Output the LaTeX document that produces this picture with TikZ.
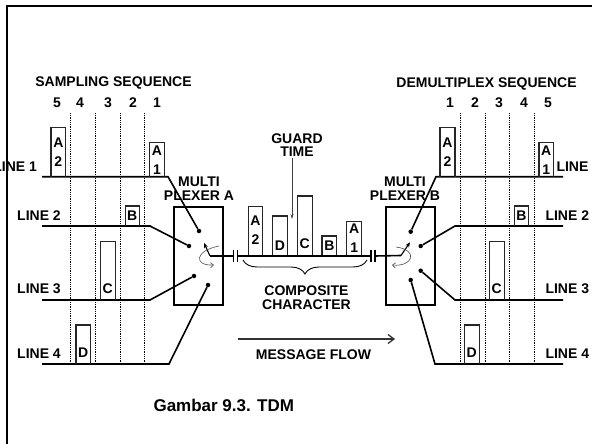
\documentclass[tikz,border=0pt]{standalone}
\usepackage{fontspec}
\setmainfont{Liberation Sans}
\usetikzlibrary{arrows.meta,decorations.pathreplacing}
\begin{document}
\begin{tikzpicture}[x=1pt, y=-1pt, font=\fontsize{14}{13.5}\selectfont\bfseries,
	pulse/.style={draw=black!85, line width=1.1pt},
	wire/.style={line width=1.6pt},
	slot/.style={densely dotted, line width=0.8pt},
	mux/.style={draw, line width=2.4pt, minimum width=49pt, minimum height=98pt, inner sep=0pt},
	pin/.style={circle, fill, inner sep=0pt, minimum size=4.5pt},
	arm/.style={line width=1.1pt, -{Stealth[length=5pt, width=4pt]}},
	rot/.style={line width=0.6pt, black!70, -{Straight Barb[length=3pt, width=5pt]}},
	pointer/.style={line width=0.7pt, black!75, -{Stealth[length=5pt, width=3pt]}}]
	
	\clip (0,0) rectangle (592,444);
	% Frame (cut at right and bottom)
	\draw[line width=2.5pt] (7,450) -- (7,6) -- (600,6);
	
	% Headings and slot numbers
	\node (samp) at (113.5,83) {SAMPLING SEQUENCE};
	\node (demux) at (486.5,84) {DEMULTIPLEX SEQUENCE};
	\foreach \x/\t in {57/5, 80/4, 108/3, 133/2, 157/1, 450/1, 475/2, 499/3, 524/4, 548/5} {
		\node at (\x,103) {\t};
	}
	% Time slots
	\foreach \x in {70.7, 95.7, 120, 144.3, 460, 485, 509.7, 534} {
		\draw[slot] (\x,113) -- (\x,364);
	}
	
	% Multiplexers
	\node[mux] (muxA) at (198.5,256) {};
	\node[mux] (muxB) at (410.5,256) {};
	\node[align=center] (labA) at (199,188.5) {MULTI\\PLEXER A};
	\node[align=center] (labB) at (405,188.5) {MULTI\\PLEXER B};
	
	% Input lines to multiplexer A
	\foreach \n/\y/\kx/\px/\py in {1/176.7/168/199/231, 2/226/150/189/246, 3/300/150/194/276, 4/364/169/208/285} {
		\node[pin] (pa\n) at (\px,\py) {};
		\coordinate (la\n) at (42,\y);
		\draw[wire] (la\n) -- (\kx,\y) -- (pa\n);
	}
	\node[anchor=east] at (40.5,167) {LINE 1};
	\foreach \n/\y in {2/216, 3/289, 4/354} {
		\node at (39,\y) {LINE \n};
	}
	
	% Output lines from multiplexer B
	\foreach \n/\y/\kx/\px/\py in {1/176.7/436/410.7/231.7, 2/226/455/420.7/246, 3/300/455/420.7/270.7, 4/364/435/410.7/280} {
		\node[pin] (pb\n) at (\px,\py) {};
		\coordinate (lb\n) at (563,\y);
		\draw[wire] (lb\n) -- (\kx,\y) -- (pb\n);
	}
	\node[anchor=west] at (553,167) {LINE 1};
	\foreach \n/\y in {2/216, 3/289, 4/354} {
		\node[anchor=west] at (542,\y) {LINE \n};
	}
	
	% Pulses: left x / right x / top / base / text centre / text
	\foreach \xa/\xb/\yt/\yb/\ty/\t in {
		51/65.7/127.7/176.7/152.5/{A\\2}, 149.7/164.3/142.3/176.7/160/{A\\1},
		125.3/139.3/206/226/216/B, 100.3/115.3/241.3/300/289/C, 76/90.3/325/364/353/D,
		248.3/262.7/206.7/256/230/{A\\2}, 272.7/287.3/216/256/246/D, 297.3/312.3/196/256/243.3/C,
		322/336.7/236/256/246/B, 346.7/361.7/221.7/256/238/{A\\1},
		440/455/127.7/176.7/152.5/{A\\2}, 539/553.3/142.3/176.7/160/{A\\1},
		514.3/528.3/206/226/216/B, 489.3/504.3/241.3/300/289/C, 464.3/479.3/325/364/353/D} {
		\draw[pulse] (\xa,\yb) -- (\xa,\yt) -- (\xb,\yt) -- (\xb,\yb);
		\node[align=center, inner sep=0pt, font=\fontsize{14}{19}\selectfont\bfseries] at ({(\xa+\xb)/2},\ty) {\t};
	}
	
	% Composite channel with line breaks
	\coordinate (hubA) at (210,256);
	\coordinate (hubB) at (401,255.5);
	\coordinate (cutA) at (233.3,256);
	\coordinate (cutA2) at (237.3,256);
	\coordinate (cutB) at (371,256);
	\coordinate (cutB2) at (375,256);
	\draw[wire] (hubA) -- (cutA);
	\draw[wire] (cutA2) -- (cutB);
	\draw[wire] (cutB2) -- (hubB);
	\foreach \c in {cutA, cutA2, cutB, cutB2} {
		\draw[wire] ([yshift=6pt]\c) -- ([yshift=-6pt]\c);
	}
	
	% Rotating switch arms
	\draw[arm] (hubA) -- (204,243);
	\draw[arm] (hubB) -- (410,242.3);
	\draw[rot] (219,246) .. controls (194,251) and (194,266) .. (214,265);
	\draw[rot] (396,247) .. controls (419,250) and (413,267) .. (392,265);
	
	% Guard time
	\node[align=center, inner sep=1pt] (guard) at (297,145) {GUARD\\TIME};
	\coordinate (gap) at (292,219);
	\draw[pointer] (guard.south -| gap) -- (gap);
	
	% Composite character brace
	\draw[decorate, decoration={brace, mirror, amplitude=14pt}, line width=0.9pt] (243,260) -- (367,260);
	\node[align=center] (comp) at (306.5,297.5) {COMPOSITE\\CHARACTER};
	
	% Message flow
	\coordinate (fa) at (238,339);
	\coordinate (fb) at (395,339);
	\draw[line width=1.3pt, black!80, -{Straight Barb[length=6pt, width=9pt]}] (fa) -- (fb);
	\node (flow) at (313.5,355) {MESSAGE FLOW};
	
	% Caption
	\node[anchor=west, font=\fontsize{17}{17}\selectfont\bfseries] (cap) at (150,405) {Gambar 9.3. TDM};
	
\end{tikzpicture}
\end{document}
